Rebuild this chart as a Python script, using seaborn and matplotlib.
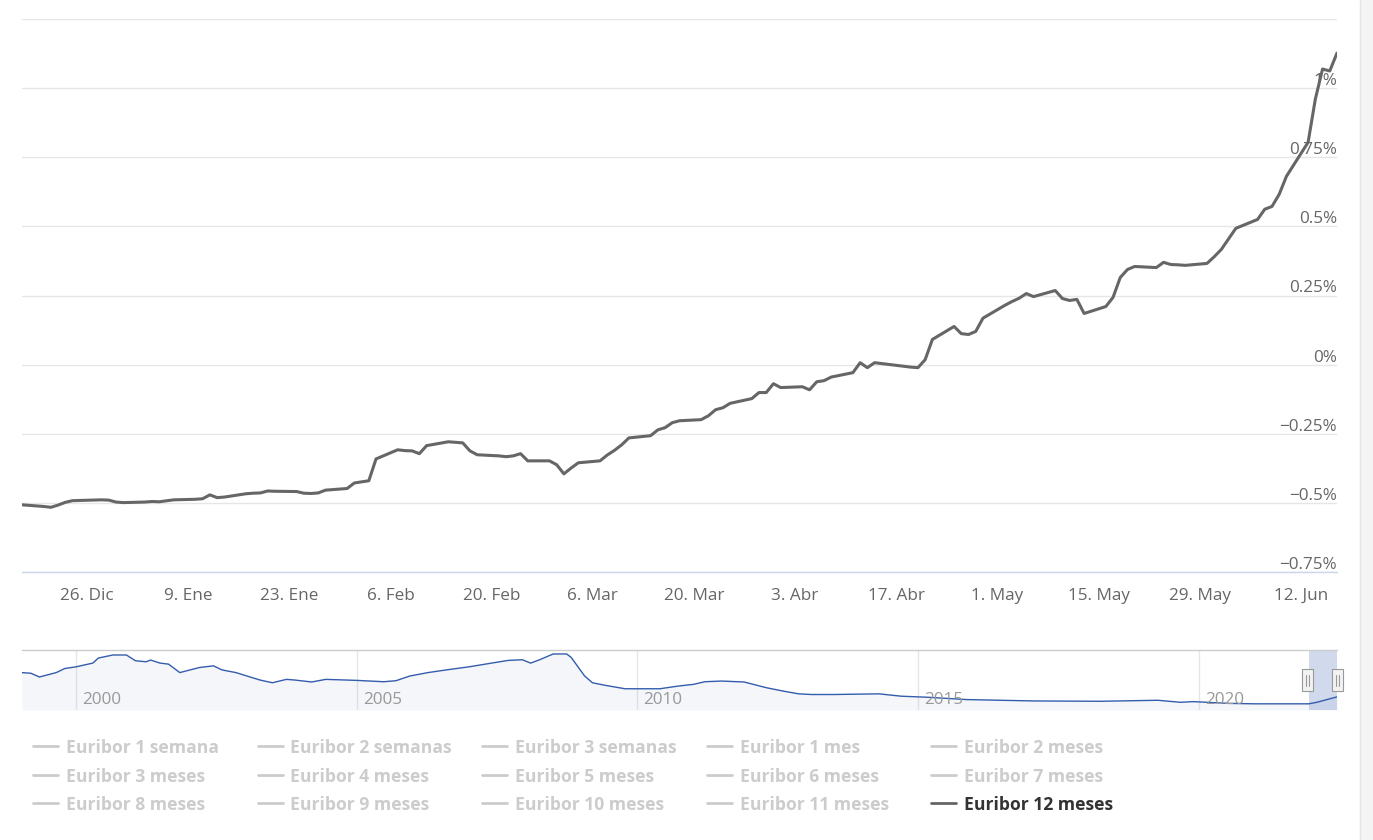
import numpy as np
import pandas as pd
import seaborn as sns
import matplotlib.pyplot as plt
import matplotlib.transforms as mtransforms
from matplotlib.lines import Line2D
from matplotlib.patches import Rectangle

# Euribor 12 meses, valores diarios (%)
fechas = ['2021-12-17', '2021-12-20', '2021-12-21', '2021-12-22', '2021-12-23', '2021-12-24',
          '2021-12-27', '2021-12-28', '2021-12-29', '2021-12-30', '2021-12-31',
          '2022-01-03', '2022-01-04', '2022-01-05', '2022-01-07', '2022-01-10', '2022-01-11',
          '2022-01-12', '2022-01-13', '2022-01-14', '2022-01-17', '2022-01-18', '2022-01-19',
          '2022-01-20', '2022-01-21', '2022-01-24', '2022-01-25', '2022-01-26', '2022-01-27',
          '2022-01-28', '2022-01-31', '2022-02-01', '2022-02-02', '2022-02-03', '2022-02-04',
          '2022-02-07', '2022-02-08', '2022-02-09', '2022-02-10', '2022-02-11', '2022-02-14',
          '2022-02-15', '2022-02-16', '2022-02-17', '2022-02-18', '2022-02-21', '2022-02-22',
          '2022-02-23', '2022-02-24', '2022-02-25', '2022-02-28', '2022-03-01', '2022-03-02',
          '2022-03-03', '2022-03-04', '2022-03-07', '2022-03-08', '2022-03-09', '2022-03-10',
          '2022-03-11', '2022-03-14', '2022-03-15', '2022-03-16', '2022-03-17', '2022-03-18',
          '2022-03-21', '2022-03-22', '2022-03-23', '2022-03-24', '2022-03-25', '2022-03-28',
          '2022-03-29', '2022-03-30', '2022-03-31', '2022-04-01', '2022-04-04', '2022-04-05',
          '2022-04-06', '2022-04-07', '2022-04-08', '2022-04-11', '2022-04-12', '2022-04-13',
          '2022-04-14', '2022-04-19', '2022-04-20', '2022-04-21', '2022-04-22', '2022-04-25',
          '2022-04-26', '2022-04-27', '2022-04-28', '2022-04-29', '2022-05-02', '2022-05-03',
          '2022-05-04', '2022-05-05', '2022-05-06', '2022-05-09', '2022-05-10', '2022-05-11',
          '2022-05-12', '2022-05-13', '2022-05-16', '2022-05-17', '2022-05-18', '2022-05-19',
          '2022-05-20', '2022-05-23', '2022-05-24', '2022-05-25', '2022-05-26', '2022-05-27',
          '2022-05-30', '2022-05-31', '2022-06-01', '2022-06-02', '2022-06-03', '2022-06-06',
          '2022-06-07', '2022-06-08', '2022-06-09', '2022-06-10', '2022-06-13', '2022-06-14',
          '2022-06-15', '2022-06-16', '2022-06-17']
euribor_12m = [-0.507, -0.513, -0.516, -0.508, -0.498, -0.492,
               -0.490, -0.489, -0.490, -0.497, -0.499,
               -0.497, -0.495, -0.496, -0.489, -0.487, -0.485,
               -0.471, -0.481, -0.479, -0.467, -0.465, -0.464,
               -0.457, -0.458, -0.459, -0.465, -0.466, -0.464,
               -0.454, -0.448, -0.428, -0.424, -0.420, -0.341,
               -0.308, -0.311, -0.312, -0.322, -0.293, -0.279,
               -0.281, -0.283, -0.312, -0.326, -0.330, -0.333,
               -0.330, -0.322, -0.348, -0.348, -0.362, -0.395,
               -0.374, -0.355, -0.348, -0.327, -0.310, -0.290,
               -0.265, -0.257, -0.236, -0.228, -0.210, -0.203,
               -0.199, -0.185, -0.163, -0.156, -0.140, -0.123,
               -0.101, -0.101, -0.069, -0.083, -0.080, -0.091,
               -0.062, -0.058, -0.045, -0.029, 0.007, -0.011,
               0.007, -0.009, -0.011, 0.018, 0.091, 0.138,
               0.112, 0.109, 0.120, 0.168, 0.214, 0.228,
               0.240, 0.257, 0.246, 0.268, 0.239, 0.232,
               0.236, 0.185, 0.210, 0.243, 0.315, 0.344,
               0.355, 0.351, 0.370, 0.362, 0.361, 0.359,
               0.366, 0.390, 0.417, 0.455, 0.493, 0.525,
               0.562, 0.572, 0.616, 0.681, 0.804, 0.960,
               1.069, 1.062, 1.127]

# navegador: historico Euribor 12 meses (anos decimales, %)
nav_anos = [1999.04, 1999.2, 1999.35, 1999.65, 1999.8, 2000.0, 2000.3, 2000.4, 2000.66, 2000.9,
            2001.06, 2001.25, 2001.33, 2001.5, 2001.65, 2001.85, 2002.2, 2002.45, 2002.6, 2002.85,
            2003.2, 2003.28, 2003.5, 2003.75, 2003.9, 2004.2, 2004.45, 2005.0, 2005.48, 2005.7,
            2005.95, 2006.27, 2006.6, 2007.0, 2007.4, 2007.7, 2007.95, 2008.1, 2008.26, 2008.5,
            2008.74, 2008.82, 2009.06, 2009.2, 2009.43, 2009.78, 2010.4, 2010.73, 2011.0, 2011.2,
            2011.5, 2011.9, 2012.3, 2012.6, 2012.87, 2013.1, 2013.5, 2014.3, 2014.7, 2015.16,
            2015.87, 2017.06, 2018.24, 2019.27, 2019.67, 2019.9, 2020.54, 2021.0, 2021.96, 2022.1,
            2022.46]
nav_valores = [3.19, 3.11, 2.67, 3.19, 3.67, 3.87, 4.31, 4.91, 5.27, 5.27,
               4.59, 4.47, 4.67, 4.31, 4.19, 3.19, 3.79, 3.99, 3.51, 3.19,
               2.47, 2.31, 1.99, 2.39, 2.31, 2.08, 2.39, 2.27, 2.11, 2.23,
               2.79, 3.19, 3.51, 3.87, 4.31, 4.63, 4.71, 4.31, 4.71, 5.39,
               5.39, 4.99, 2.79, 1.99, 1.68, 1.28, 1.28, 1.60, 1.80, 2.11,
               2.19, 2.08, 1.40, 1.00, 0.68, 0.60, 0.60, 0.68, 0.40, 0.28,
               0.00, -0.16, -0.20, -0.08, -0.32, -0.24, -0.45, -0.50, -0.50, -0.32,
               0.32]

xtick_fechas = ['2021-12-26', '2022-01-09', '2022-01-23', '2022-02-06', '2022-02-20', '2022-03-06',
                '2022-03-20', '2022-04-03', '2022-04-17', '2022-05-01', '2022-05-15', '2022-05-29',
                '2022-06-12']
xtick_labels = ['26. Dic', '9. Ene', '23. Ene', '6. Feb', '20. Feb', '6. Mar', '20. Mar',
                '3. Abr', '17. Abr', '1. May', '15. May', '29. May', '12. Jun']
ytick_valores = [-0.75, -0.5, -0.25, 0, 0.25, 0.5, 0.75, 1, 1.25]
ytick_labels = ['\u22120.75%', '\u22120.5%', '\u22120.25%', '0%', '0.25%', '0.5%', '0.75%', '1%', '']
nav_year_ticks = [2000, 2005, 2010, 2015, 2020]

legend_labels = ['Euribor 1 semana', 'Euribor 2 semanas', 'Euribor 3 semanas', 'Euribor 1 mes',
                 'Euribor 2 meses', 'Euribor 3 meses', 'Euribor 4 meses', 'Euribor 5 meses',
                 'Euribor 6 meses', 'Euribor 7 meses', 'Euribor 8 meses', 'Euribor 9 meses',
                 'Euribor 10 meses', 'Euribor 11 meses', 'Euribor 12 meses']
legend_visible = [False] * 14 + [True]

sns.set_style('white')
plt.rcParams['font.family'] = ['Open Sans', 'DejaVu Sans']

W, H = 1373, 840
fig = plt.figure(figsize=(W / 100, H / 100), dpi=100)
fig.patch.set_facecolor('white')

# franja gris a la derecha
fig.add_artist(Rectangle((1360 / W, 0), 13 / W, 1, transform=fig.transFigure,
                         facecolor='#f4f4f4', edgecolor='none'))
fig.add_artist(Line2D([1360 / W, 1360 / W], [0, 1], transform=fig.transFigure,
                      color='#e4e4e4', lw=1))

# ---- grafico principal ----
ax = fig.add_axes([22 / W, 1 - 572 / H, 1315 / W, 553 / H])
df = pd.DataFrame({'fecha': pd.to_datetime(fechas), 'valor': euribor_12m})
sns.lineplot(data=df, x='fecha', y='valor', ax=ax, color='#666666', linewidth=2.2, zorder=3)

ax.set_xlim(pd.Timestamp(fechas[0]), pd.Timestamp(fechas[-1]))
ax.set_ylim(-0.75, 1.25)
ax.set_xlabel('')
ax.set_ylabel('')
ax.set_yticks(ytick_valores)
ax.set_yticklabels([])
ax.tick_params(axis='y', length=0)
ax.grid(axis='y', color='#e6e6e6', lw=1)
ax.grid(axis='x', visible=False)
ax.set_axisbelow(True)
for s in ['top', 'left', 'right']:
    ax.spines[s].set_visible(False)
ax.spines['bottom'].set_color('#ccd6eb')
ax.spines['bottom'].set_linewidth(1)

ax.set_xticks(pd.to_datetime(xtick_fechas))
ax.set_xticklabels(xtick_labels)
ax.tick_params(axis='x', direction='out', length=7.2, width=0.8, color='#ccd6eb',
               labelcolor='#666666', labelsize=12.3, pad=4)

ytrans = mtransforms.blended_transform_factory(ax.transAxes, ax.transData)
ytrans = mtransforms.offset_copy(ytrans, fig=fig, x=0, y=3, units='dots')
for v, lab in zip(ytick_valores, ytick_labels):
    ax.text(1.0, v, lab, transform=ytrans, ha='right', va='baseline',
            color='#666666', fontsize=12.3, zorder=1)

# ---- navegador ----
ax2 = fig.add_axes([22 / W, 1 - 710 / H, 1315 / W, 60 / H])
nav = pd.DataFrame({'ano': nav_anos, 'valor': nav_valores})
nav_ymin, nav_ymax = -1.23, 5.86
ax2.fill_between(nav['ano'], nav['valor'], nav_ymin, color='#6685c2', alpha=0.07, lw=0)
sns.lineplot(data=nav, x='ano', y='valor', ax=ax2, color='#335cad', linewidth=1)
ax2.set_xlim(1999.04, 2022.46)
ax2.set_ylim(nav_ymin, nav_ymax)
ax2.set_xlabel('')
ax2.set_ylabel('')
ax2.set_yticks([])
ax2.set_xticks(nav_year_ticks)
ax2.set_xticklabels([])
ax2.tick_params(axis='x', length=0)
ax2.grid(axis='x', color='#e6e6e6', lw=1)
ax2.set_axisbelow(True)
for s in ['left', 'right', 'bottom']:
    ax2.spines[s].set_visible(False)
ax2.spines['top'].set_color('#cccccc')
ax2.spines['top'].set_linewidth(1)

ntrans = mtransforms.blended_transform_factory(ax2.transData, ax2.transAxes)
ntrans = mtransforms.offset_copy(ntrans, fig=fig, x=6, y=6, units='dots')
for yr in nav_year_ticks:
    ax2.text(yr, 0, str(yr), transform=ntrans, ha='left', va='baseline',
             color='#999999', fontsize=12.3)

# ventana seleccionada
sel_ini, sel_fin = 2021.96, 2022.46
ax2.axvspan(sel_ini, sel_fin, color='#6685c2', alpha=0.3, lw=0)
for hx in [1307, 1337]:
    fig.add_artist(Rectangle(((hx - 5.5) / W, 1 - 691 / H), 11 / W, 22 / H,
                             transform=fig.transFigure, facecolor='#f2f2f2',
                             edgecolor='#999999', lw=0.8))
    for dx in [-1.5, 1.5]:
        fig.add_artist(Line2D([(hx + dx) / W] * 2, [1 - 686 / H, 1 - 675 / H],
                              transform=fig.transFigure, color='#999999', lw=0.8))

# ---- leyenda ----
for i, (lab, vis) in enumerate(zip(legend_labels, legend_visible)):
    fila, col = divmod(i, 5)
    x0 = 33 + col * 224.5
    y0 = 746 + fila * 28.5
    color_sym = '#666666' if vis else '#cccccc'
    color_txt = '#333333' if vis else '#cccccc'
    fig.add_artist(Line2D([x0 / W, (x0 + 25) / W], [1 - y0 / H] * 2,
                          transform=fig.transFigure, color=color_sym, lw=2))
    fig.text((x0 + 33) / W, 1 - (y0 + 2) / H, lab, ha='left', va='center',
             color=color_txt, fontsize=12.6, fontweight='bold')

fig.savefig('out.png', dpi=100)
